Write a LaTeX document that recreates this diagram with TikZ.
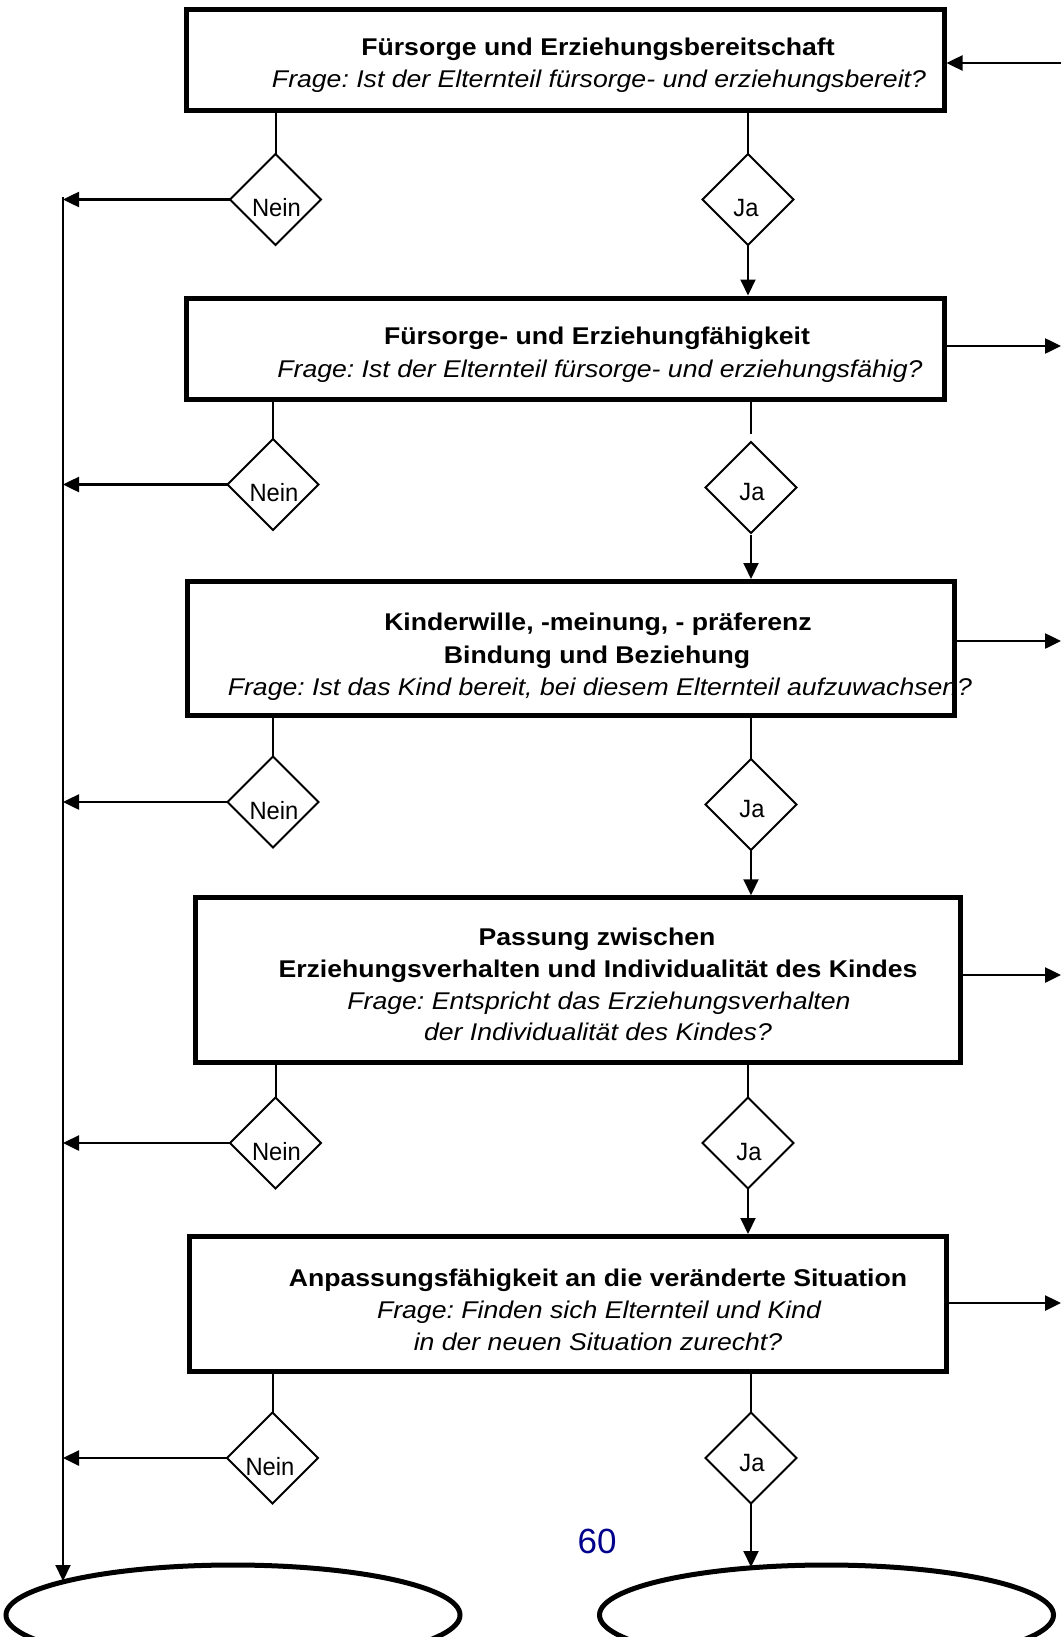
\documentclass[tikz,border=0pt]{standalone}
\usepackage{fontspec}
\setmainfont{Liberation Sans}
\newfontfamily\boxfont[FakeStretch=1.10]{Liberation Sans}
\newfontfamily\labfont[FakeStretch=0.95]{Liberation Sans}
\usetikzlibrary{shapes.geometric,arrows.meta}
\definecolor{pagenavy}{RGB}{0,0,140}
\frenchspacing
\begin{document}
\begin{tikzpicture}[x=1pt,y=-1pt,
  boxnode/.style={draw, line width=5pt, rectangle, inner sep=0pt, outer sep=2.5pt},
  dia/.style={draw, line width=2pt, diamond, minimum width=91pt, minimum height=91pt, inner sep=0pt, outer sep=0pt},
  oval/.style={draw, line width=5pt, ellipse, minimum width=454pt, minimum height=100pt, inner sep=0pt, outer sep=0pt},
  headtxt/.style={anchor=base, inner sep=0pt, font={\boxfont\bfseries\fontsize{24.2}{29}\selectfont}},
  asktxt/.style={anchor=base, inner sep=0pt, font={\boxfont\itshape\fontsize{24.2}{29}\selectfont}},
  labtxt/.style={anchor=base, inner sep=0pt, font={\labfont\fontsize{25}{30}\selectfont}},
  conn/.style={line width=2pt},
  arr/.style={line width=2pt, -{Triangle[length=16pt,width=15pt]}},
  harr/.style={line width=2.5pt, -{Triangle[length=16pt,width=15pt]}}
]
\useasboundingbox (0,0) rectangle (1061,1637);
\clip (0,0) rectangle (1061,1637);

% boxes
\node[boxnode, minimum width=758pt, minimum height=101pt] (b1) at (565,60) {};
\node[boxnode, minimum width=758pt, minimum height=101pt] (b2) at (565,348.5) {};
\node[boxnode, minimum width=767pt, minimum height=134pt] (b3) at (570.5,648.5) {};
\node[boxnode, minimum width=765pt, minimum height=164.5pt] (b4) at (577.5,980) {};
\node[boxnode, minimum width=756.5pt, minimum height=135pt] (b5) at (568,1304) {};

% box texts
\node[headtxt] (t1a) at (598,56) {Fürsorge und Erziehungsbereitschaft};
\node[asktxt] (t1b) at (599,88) {Frage: Ist der Elternteil fürsorge- und erziehungsbereit?};
\node[headtxt] (t2a) at (597,344.5) {Fürsorge- und Erziehungfähigkeit};
\node[asktxt] (t2b) at (600,377) {Frage: Ist der Elternteil fürsorge- und erziehungsfähig?};
\node[headtxt] (t3a) at (598,630) {Kinderwille, -meinung, - präferenz};
\node[headtxt] (t3b) at (597,663) {Bindung und Beziehung};
\node[asktxt] (t3c) at (600,695) {Frage: Ist das Kind bereit, bei diesem Elternteil aufzuwachsen?};
\node[headtxt] (t4a) at (597,945) {Passung zwischen};
\node[headtxt] (t4b) at (598,977) {Erziehungsverhalten und Individualität des Kindes};
\node[asktxt] (t4c) at (599,1009) {Frage: Entspricht das Erziehungsverhalten};
\node[asktxt] (t4d) at (598,1040) {der Individualität des Kindes?};
\node[headtxt] (t5a) at (598,1286) {Anpassungsfähigkeit an die veränderte Situation};
\node[asktxt] (t5b) at (599,1318) {Frage: Finden sich Elternteil und Kind};
\node[asktxt] (t5c) at (598,1350) {in der neuen Situation zurecht?};

% diamonds
\node[dia] (n1) at (275.5,199.5) {};
\node[dia] (j1) at (748,199.5) {};
\node[dia] (n2) at (273,484.5) {};
\node[dia] (j2) at (751,487.5) {};
\node[dia] (n3) at (273,802) {};
\node[dia] (j3) at (751,804.5) {};
\node[dia] (n4) at (275.5,1143) {};
\node[dia] (j4) at (748,1143) {};
\node[dia] (n5) at (272.5,1458) {};
\node[dia] (j5) at (751,1458) {};

% diamond labels
\node[labtxt] (ln1) at (276.5,216.5) {Nein};
\node[labtxt] (lj1) at (746,216.5) {Ja};
\node[labtxt] (ln2) at (274,501.5) {Nein};
\node[labtxt] (lj2) at (752,500.5) {Ja};
\node[labtxt] (ln3) at (274,819) {Nein};
\node[labtxt] (lj3) at (752,817.5) {Ja};
\node[labtxt] (ln4) at (276.5,1160) {Nein};
\node[labtxt] (lj4) at (749,1160) {Ja};
\node[labtxt] (ln5) at (270,1475) {Nein};
\node[labtxt] (lj5) at (752,1471) {Ja};

% ellipses
\node[oval] (e1) at (233,1615) {};
\node[oval] (e2) at (826.5,1615) {};

% page number
\node[inner sep=0pt, text=pagenavy, font={\fontsize{35}{40}\selectfont}] (pg) at (597,1541) {60};

% coordinates
\coordinate (ltop) at (63,197);
\coordinate (e1tip) at (63,1581);
\coordinate (e2tip) at (751,1567);
\coordinate (r1) at (1061,63);
\coordinate (r2) at (1061,346);
\coordinate (r3) at (1061,641);
\coordinate (r4) at (1061,975);
\coordinate (r5) at (1061,1303);

% box -> diamonds
\draw[conn] (n1.north |- b1.south) -- (n1.north);
\draw[conn] (j1.north |- b1.south) -- (j1.north);
\draw[conn] (n2.north |- b2.south) -- (n2.north);
\draw[conn, shorten >=8pt] (j2.north |- b2.south) -- (j2.north);
\draw[conn] (n3.north |- b3.south) -- (n3.north);
\draw[conn] (j3.north |- b3.south) -- (j3.north);
\draw[conn] (n4.north |- b4.south) -- (n4.north);
\draw[conn] (j4.north |- b4.south) -- (j4.north);
\draw[conn] (n5.north |- b5.south) -- (n5.north);
\draw[conn] (j5.north |- b5.south) -- (j5.north);

% Ja -> next box
\draw[arr] (j1.south) -- (j1.south |- b2.north);
\draw[arr, shorten <=2pt] (j2.south) -- (j2.south |- b3.north);
\draw[arr] (j3.south) -- (j3.south |- b4.north);
\draw[arr] (j4.south) -- (j4.south |- b5.north);
\draw[arr] (j5.south) -- (e2tip);

% Nein -> left line
\draw[harr] (n1.west) -- (n1.west -| ltop);
\draw[harr] (n2.west) -- (n2.west -| ltop);
\draw[harr] (n3.west) -- (n3.west -| ltop);
\draw[harr] (n4.west) -- (n4.west -| ltop);
\draw[harr] (n5.west) -- (n5.west -| ltop);
\draw[arr] (ltop) -- (e1tip);

% right side arrows
\draw[harr] (r1) -- (r1 -| b1.east);
\draw[harr] (r2 -| b2.east) -- (r2);
\draw[harr] (r3 -| b3.east) -- (r3);
\draw[harr] (r4 -| b4.east) -- (r4);
\draw[harr] (r5 -| b5.east) -- (r5);
\end{tikzpicture}
\end{document}
